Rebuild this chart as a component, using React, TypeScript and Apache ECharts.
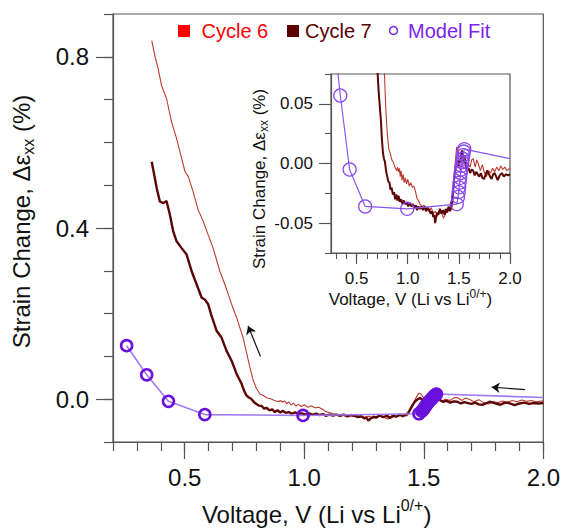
import React, { useEffect, useRef } from "react";
import * as echarts from "echarts";

// ---------- data (Voltage V, strain change %) ----------
const cycle6: [number, number][] = [
  [0.362, 0.838], [0.375, 0.803], [0.389, 0.772], [0.403, 0.733], [0.424, 0.702],
  [0.445, 0.648], [0.466, 0.609], [0.487, 0.563], [0.501, 0.532], [0.515, 0.52],
  [0.535, 0.485], [0.556, 0.443], [0.577, 0.416], [0.598, 0.384], [0.619, 0.353],
  [0.647, 0.299], [0.668, 0.268], [0.696, 0.222], [0.717, 0.191], [0.744, 0.144],
  [0.758, 0.11], [0.772, 0.076], [0.786, 0.045], [0.8, 0.025], [0.815, 0.012],
  [0.83, 0.008], [0.845, 0.003], [0.86, 0.001], [0.875, -0.003], [0.892, -0.006],
  [0.9, -0.003], [0.91, -0.007], [0.918, -0.004], [0.927, -0.011], [0.935, -0.006],
  [0.945, -0.014], [0.955, -0.009], [0.965, -0.016], [0.975, -0.012], [0.988, -0.017],
  [1.0, -0.013], [1.015, -0.019], [1.03, -0.016], [1.045, -0.02], [1.06, -0.019],
  [1.075, -0.023], [1.09, -0.029], [1.105, -0.031], [1.12, -0.034], [1.14, -0.036],
  [1.16, -0.035], [1.186, -0.038], [1.21, -0.04], [1.23, -0.037], [1.25, -0.042],
  [1.27, -0.04], [1.29, -0.044], [1.31, -0.039], [1.33, -0.041], [1.35, -0.046],
  [1.37, -0.042], [1.39, -0.04], [1.41, -0.037], [1.43, -0.039], [1.44, -0.03],
  [1.45, -0.018], [1.46, -0.005], [1.47, 0.006], [1.479, 0.014], [1.488, 0.012],
  [1.497, 0.005], [1.505, -0.002], [1.515, -0.006], [1.525, -0.003], [1.535, 0.004],
  [1.545, 0.002], [1.555, 0.006], [1.565, 0.001], [1.576, -0.004], [1.59, 0.0],
  [1.61, -0.003], [1.625, 0.003], [1.64, 0.004], [1.66, -0.003], [1.675, 0.003],
  [1.69, 0.0], [1.71, -0.006], [1.73, -0.001], [1.75, -0.008], [1.77, -0.011],
  [1.79, -0.006], [1.81, -0.008], [1.83, -0.004], [1.85, -0.007], [1.87, -0.003],
  [1.89, -0.006], [1.91, -0.002], [1.93, -0.005], [1.95, -0.003], [1.97, -0.006],
  [2.0, -0.004],
];

const cycle7: [number, number][] = [
  [0.362, 0.555], [0.383, 0.493], [0.396, 0.462], [0.41, 0.458], [0.424, 0.463],
  [0.438, 0.431], [0.452, 0.392], [0.466, 0.369], [0.487, 0.353], [0.508, 0.338],
  [0.529, 0.299], [0.55, 0.268], [0.571, 0.237], [0.584, 0.233], [0.598, 0.222],
  [0.612, 0.195], [0.633, 0.16], [0.654, 0.144], [0.675, 0.113], [0.696, 0.09],
  [0.717, 0.059], [0.738, 0.036], [0.748, 0.02], [0.758, 0.009], [0.768, 0.004],
  [0.778, 0.001], [0.79, -0.007], [0.8, -0.011], [0.81, -0.015], [0.822, -0.016],
  [0.832, -0.022], [0.842, -0.02], [0.855, -0.026], [0.866, -0.024], [0.877, -0.03],
  [0.888, -0.026], [0.9, -0.031], [0.91, -0.027], [0.922, -0.032], [0.935, -0.03],
  [0.948, -0.034], [0.962, -0.031], [0.975, -0.034], [0.99, -0.033], [1.005, -0.036],
  [1.02, -0.033], [1.035, -0.036], [1.05, -0.034], [1.065, -0.037], [1.08, -0.035],
  [1.09, -0.039], [1.105, -0.036], [1.12, -0.038], [1.135, -0.036], [1.15, -0.039],
  [1.165, -0.036], [1.18, -0.04], [1.195, -0.037], [1.21, -0.039], [1.225, -0.042],
  [1.24, -0.04], [1.25, -0.045], [1.26, -0.043], [1.268, -0.05], [1.278, -0.045],
  [1.29, -0.041], [1.3, -0.043], [1.315, -0.038], [1.33, -0.042], [1.345, -0.039],
  [1.36, -0.043], [1.372, -0.038], [1.385, -0.041], [1.4, -0.036], [1.412, -0.04],
  [1.425, -0.036], [1.435, -0.032], [1.445, -0.022], [1.455, -0.012], [1.465, -0.004],
  [1.475, 0.0], [1.485, 0.003], [1.495, -0.002], [1.505, 0.003], [1.515, 0.001],
  [1.522, 0.008], [1.53, 0.011], [1.54, 0.006], [1.55, 0.001], [1.56, 0.004],
  [1.57, -0.003], [1.58, -0.006], [1.595, -0.004], [1.61, -0.008], [1.625, -0.005],
  [1.64, -0.006], [1.655, -0.01], [1.67, -0.007], [1.685, -0.009], [1.7, -0.011],
  [1.715, -0.008], [1.73, -0.012], [1.745, -0.013], [1.76, -0.01], [1.775, -0.006],
  [1.79, -0.008], [1.805, -0.011], [1.82, -0.013], [1.835, -0.009], [1.85, -0.008],
  [1.865, -0.011], [1.88, -0.014], [1.9, -0.01], [1.92, -0.008], [1.94, -0.011],
  [1.96, -0.009], [1.98, -0.01], [2.0, -0.009],
];

const modelFit: [number, number][] = [
  [0.257, 0.125], [0.341, 0.057], [0.432, -0.005], [0.584, -0.036], [0.995, -0.038],
  [1.48, -0.034], [1.492, -0.028], [1.498, -0.024], [1.503, -0.02], [1.508, -0.016],
  [1.513, -0.012], [1.518, -0.008], [1.523, -0.005], [1.528, -0.002], [1.533, 0.001],
  [1.538, 0.004], [1.543, 0.007], [1.548, 0.01], [1.553, 0.012],
];
const modelTail: [number, number] = [2.0, 0.004];

// arrows: [tail, head]
const arrowUp: [[number, number], [number, number]] = [[0.817, 0.1], [0.765, 0.171]];
const arrowLeft: [[number, number], [number, number]] = [[1.924, 0.0226], [1.784, 0.028]];

// ticks
const mainXLabels = [0.5, 1.0, 1.5, 2.0];
const mainYLabels = [0.0, 0.4, 0.8];
const insetXLabels = [0.5, 1.0, 1.5, 2.0];
const insetXMinor = [0.3, 0.4, 0.5, 0.6, 0.7, 0.8, 0.9, 1.0, 1.1, 1.2, 1.3, 1.4, 1.5, 1.6, 1.7, 1.8, 1.9, 2.0];
const insetYLabels = [-0.05, 0.0, 0.05];

const FONT = '"Liberation Sans", Arial, Helvetica, sans-serif';
const AXIS_COLOR = "#555";
const TEXT = "#111";
const C6 = "#bd3b2c";
const C7 = "#5c0505";
const PURPLE_LINE = "#a27af2";
const PURPLE_DOT = "#6a10dc";

export default function App() {
  const ref = useRef<HTMLDivElement>(null);

  useEffect(() => {
    if (!ref.current) return;
    const chart = echarts.init(ref.current, undefined, { renderer: "svg" });

    const modelData: any[] = [...modelFit.map((p) => p), { value: modelTail, symbol: "none" }];

    const majorX = (gridIndex: number, min: number, values: number[], tickLen: number, font: number, margin: number, name: string, nameGap: number, pad: number[], rich: any) => ({
      type: "value",
      gridIndex,
      min,
      max: 2.0,
      position: "bottom",
      axisLine: { show: true, onZero: false, lineStyle: { color: AXIS_COLOR, width: 1.2 } },
      axisTick: { show: true, length: tickLen, customValues: values, lineStyle: { color: AXIS_COLOR, width: 1.2 } },
      axisLabel: { customValues: values, formatter: (v: number) => v.toFixed(1), fontSize: font, color: TEXT, margin, fontFamily: FONT },
      splitLine: { show: false },
      name,
      nameLocation: "middle",
      nameGap,
      nameTextStyle: { padding: pad, rich, fontFamily: FONT, color: TEXT },
    });

    const supRich = (big: number, lh: number, small: number) => ({
      t: { fontSize: big, lineHeight: lh, color: TEXT, fontFamily: FONT },
      sup: { fontSize: small, lineHeight: small + 2, verticalAlign: "top", color: TEXT, fontFamily: FONT },
    });
    const subRich = (big: number, lh: number, small: number) => ({
      t: { fontSize: big, lineHeight: lh, color: TEXT, fontFamily: FONT },
      sub: { fontSize: small, lineHeight: small + 2, verticalAlign: "bottom", color: TEXT, fontFamily: FONT },
    });

    const option: any = {
      animation: false,
      textStyle: { fontFamily: FONT },
      grid: [
        { left: 113, top: 14, width: 432, height: 431, show: true, borderColor: AXIS_COLOR, borderWidth: 1.2, backgroundColor: "transparent", containLabel: false },
        { left: 331, top: 74, width: 179, height: 179, show: true, borderColor: AXIS_COLOR, borderWidth: 1.2, backgroundColor: "transparent", containLabel: false },
      ],
      xAxis: [
        majorX(0, 0.2, mainXLabels, 17, 24, 23, "{t|Voltage, V (Li vs Li}{sup|0/+}{t|)}", 55, [0, 23, 0, 0], supRich(24, 34, 16)),
        {
          type: "value", gridIndex: 0, min: 0.2, max: 2.0, interval: 0.1, position: "bottom",
          axisLine: { show: false, onZero: false }, axisLabel: { show: false }, splitLine: { show: false },
          axisTick: { show: true, length: 9, lineStyle: { color: AXIS_COLOR, width: 1.2 } },
        },
        majorX(1, 0.25, insetXLabels, 11, 17, 17, "{t|Voltage, V (Li vs Li}{sup|0/+}{t|)}", 33, [0, 20, 0, 0], supRich(17, 24, 12)),
        {
          type: "value", gridIndex: 1, min: 0.25, max: 2.0, position: "bottom",
          axisLine: { show: false, onZero: false }, axisLabel: { show: false }, splitLine: { show: false },
          axisTick: { show: true, length: 6, customValues: insetXMinor, lineStyle: { color: AXIS_COLOR, width: 1.1 } },
        },
      ],
      yAxis: [
        {
          type: "value", gridIndex: 0, min: -0.1, max: 0.9, position: "left",
          axisLine: { show: true, onZero: false, lineStyle: { color: AXIS_COLOR, width: 1.2 } },
          axisTick: { show: true, length: 17, customValues: mainYLabels, lineStyle: { color: AXIS_COLOR, width: 1.2 } },
          axisLabel: { customValues: mainYLabels, formatter: (v: number) => v.toFixed(1), fontSize: 24, color: TEXT, margin: 24, fontFamily: FONT },
          splitLine: { show: false },
          name: "{t|Strain Change, Δε}{sub|xx}{t| (%)}",
          nameLocation: "middle",
          nameGap: 77,
          nameTextStyle: { padding: [0, 0, 0, 13], rich: subRich(24, 30, 16), fontFamily: FONT, color: TEXT },
        },
        {
          type: "value", gridIndex: 0, min: -0.1, max: 0.9, interval: 0.1, position: "left",
          axisLine: { show: false, onZero: false }, axisLabel: { show: false }, splitLine: { show: false },
          axisTick: { show: true, length: 9, lineStyle: { color: AXIS_COLOR, width: 1.2 } },
        },
        {
          type: "value", gridIndex: 1, min: -0.075, max: 0.075, position: "left",
          axisLine: { show: true, onZero: false, lineStyle: { color: AXIS_COLOR, width: 1.2 } },
          axisTick: { show: true, length: 12, customValues: insetYLabels, lineStyle: { color: AXIS_COLOR, width: 1.1 } },
          axisLabel: { customValues: insetYLabels, formatter: (v: number) => v.toFixed(2), fontSize: 17, color: TEXT, margin: 18, fontFamily: FONT },
          splitLine: { show: false },
          name: "{t|Strain Change, Δε}{sub|xx}{t| (%)}",
          nameLocation: "middle",
          nameGap: 61,
          nameTextStyle: { padding: [0, 31, 0, 0], rich: subRich(17, 22, 12), fontFamily: FONT, color: TEXT },
        },
        {
          type: "value", gridIndex: 1, min: -0.075, max: 0.075, interval: 0.025, position: "left",
          axisLine: { show: false, onZero: false }, axisLabel: { show: false }, splitLine: { show: false },
          axisTick: { show: true, length: 6, lineStyle: { color: AXIS_COLOR, width: 1.1 } },
        },
      ],
      series: [
        {
          name: "Cycle 6", type: "line", xAxisIndex: 0, yAxisIndex: 0, data: cycle6,
          showSymbol: false, symbol: "none", lineStyle: { color: C6, width: 1.1 }, itemStyle: { color: C6 }, z: 2,
        },
        {
          name: "Cycle 7", type: "line", xAxisIndex: 0, yAxisIndex: 0, data: cycle7,
          showSymbol: false, symbol: "none", lineStyle: { color: C7, width: 2.4 }, itemStyle: { color: C7 }, z: 3,
          markLine: {
            silent: true,
            symbol: ["none", "arrow"],
            symbolSize: 8,
            label: { show: false },
            lineStyle: { color: "#111", width: 1.2, type: "solid" },
            emphasis: { disabled: true },
            data: [
              [{ coord: arrowUp[0] }, { coord: arrowUp[1] }],
              [{ coord: arrowLeft[0] }, { coord: arrowLeft[1] }],
            ],
          },
        },
        {
          name: "Model Fit", type: "line", xAxisIndex: 0, yAxisIndex: 0, data: modelData,
          symbol: "circle", symbolSize: 11, showSymbol: true,
          itemStyle: { color: "rgba(255,255,255,0)", borderColor: PURPLE_DOT, borderWidth: 2.6 },
          lineStyle: { color: PURPLE_LINE, width: 1.6 }, z: 4,
        },
        {
          name: "Cycle 6 inset", type: "line", xAxisIndex: 2, yAxisIndex: 2, data: cycle6,
          showSymbol: false, symbol: "none", lineStyle: { color: C6, width: 1.1 }, z: 2,
        },
        {
          name: "Cycle 7 inset", type: "line", xAxisIndex: 2, yAxisIndex: 2, data: cycle7,
          showSymbol: false, symbol: "none", lineStyle: { color: C7, width: 2.0 }, z: 3,
        },
        {
          name: "Model Fit inset", type: "line", xAxisIndex: 2, yAxisIndex: 2, data: modelData,
          symbol: "circle", symbolSize: 13, showSymbol: true,
          itemStyle: { color: "rgba(255,255,255,0)", borderColor: "#8a46f0", borderWidth: 1.3 },
          lineStyle: { color: "#8a56f0", width: 1.2 }, z: 4,
        },
      ],
      graphic: [
        { type: "rect", shape: { x: 178, y: 25, width: 12, height: 12 }, style: { fill: "#ff0000" } },
        { type: "text", x: 201.5, y: 30.5, style: { text: "Cycle 6", fill: "#ff0000", fontSize: 20, fontFamily: FONT, verticalAlign: "middle", align: "left" } },
        { type: "rect", shape: { x: 287, y: 25, width: 12, height: 12 }, style: { fill: "#5a0000" } },
        { type: "text", x: 305, y: 30.5, style: { text: "Cycle 7", fill: "#5a0000", fontSize: 20, fontFamily: FONT, verticalAlign: "middle", align: "left" } },
        { type: "circle", shape: { cx: 393.5, cy: 30.5, r: 4 }, style: { fill: "none", stroke: "#7a22ee", lineWidth: 1.5 } },
        { type: "text", x: 408, y: 30.5, style: { text: "Model Fit", fill: "#7a22ee", fontSize: 20, fontFamily: FONT, verticalAlign: "middle", align: "left" } },
      ],
    };

    chart.setOption(option);
    return () => chart.dispose();
  }, []);

  return (
    <div
      ref={ref}
      style={{ position: "fixed", left: 0, top: 0, width: 563, height: 531, background: "#fff" }}
    />
  );
}
